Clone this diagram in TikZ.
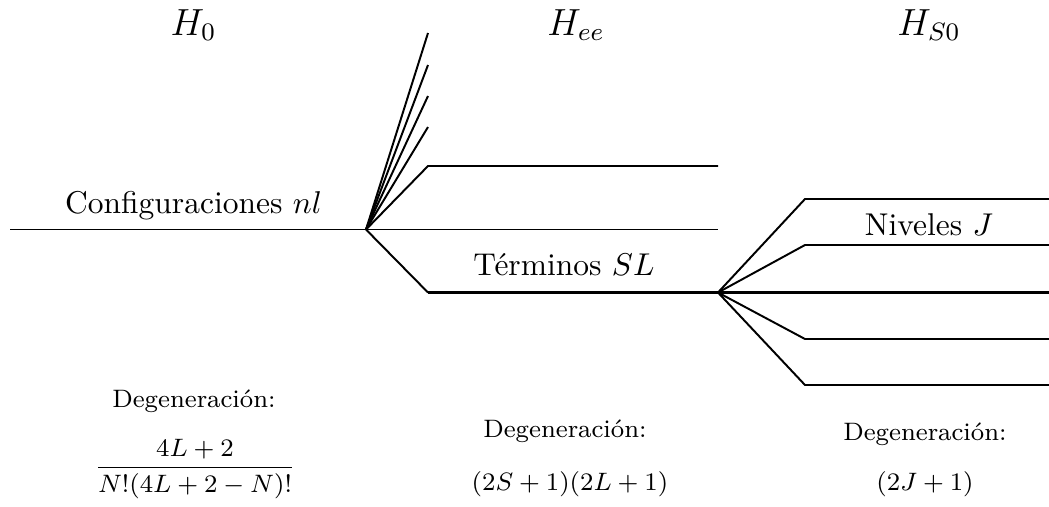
\documentclass[tikz,border=0pt]{standalone}
\usepackage{amsmath}
\begin{document}
\begin{tikzpicture}[x=0.3175pt,y=-0.3175pt,
  lvl/.style={line width=0.62pt},
  lvlb/.style={line width=0.95pt},
  head/.style={font=\large,anchor=base},
  lab/.style={font=\normalsize,anchor=base},
  deg/.style={font=\footnotesize,anchor=base}]
\useasboundingbox (0,0) rectangle (1049,506);
\coordinate (a0) at (10,229.5);
\coordinate (o1) at (366,229.5);
\coordinate (t1) at (428,33);
\coordinate (t2) at (428,65);
\coordinate (t3) at (428,96);
\coordinate (t4) at (428,127);
\coordinate (t5) at (428,166);
\coordinate (t5e) at (718,166);
\coordinate (t6e) at (718,229.5);
\coordinate (t7) at (428,292.5);
\coordinate (o2) at (718,292.5);
\coordinate (j1) at (805,199);
\coordinate (j1e) at (1049,199);
\coordinate (j2) at (805,245);
\coordinate (j2e) at (1049,245);
\coordinate (j3e) at (1049,292.5);
\coordinate (j4) at (805,339);
\coordinate (j4e) at (1049,339);
\coordinate (j5) at (805,385);
\coordinate (j5e) at (1049,385);
\draw[lvl] (a0) -- (o1);
\draw[lvl] (o1) -- (t1);
\draw[lvl] (o1) -- (t2);
\draw[lvl] (o1) -- (t3);
\draw[lvl] (o1) -- (t4);
\draw[lvl] (o1) -- (t5) -- (t5e);
\draw[lvl] (o1) -- (t6e);
\draw[lvl] (o1) -- (t7);
\draw[lvlb] (t7) -- (o2);
\draw[lvl] (o2) -- (j1) -- (j1e);
\draw[lvl] (o2) -- (j2) -- (j2e);
\draw[lvlb] (o2) -- (j3e);
\draw[lvl] (o2) -- (j4) -- (j4e);
\draw[lvl] (o2) -- (j5) -- (j5e);
% labels
\node[head] (h0) at (193.5,35) {$H_0$};
\node[head] (hee) at (576,35) {$H_{ee}$};
\node[head] (hs0) at (929,35) {$H_{S0}$};
\node[lab] (conf) at (193.5,213) {Configuraciones $nl$};
\node[lab] (term) at (564,275) {Términos $SL$};
\node[lab] (niv) at (929,235) {Niveles $J$};
\node[deg] (d1) at (194,407) {Degeneración:};
\node[font=\footnotesize] (f1) at (195,469) {$\dfrac{4L+2}{N!(4L+2-N)!}$};
\node[deg] (d2) at (565,437) {Degeneración:};
\node[deg] (f2) at (570,490) {$(2S+1)(2L+1)$};
\node[deg] (d3) at (925,440) {Degeneración:};
\node[deg] (f3) at (925,490) {$(2J+1)$};
\end{tikzpicture}
\end{document}
